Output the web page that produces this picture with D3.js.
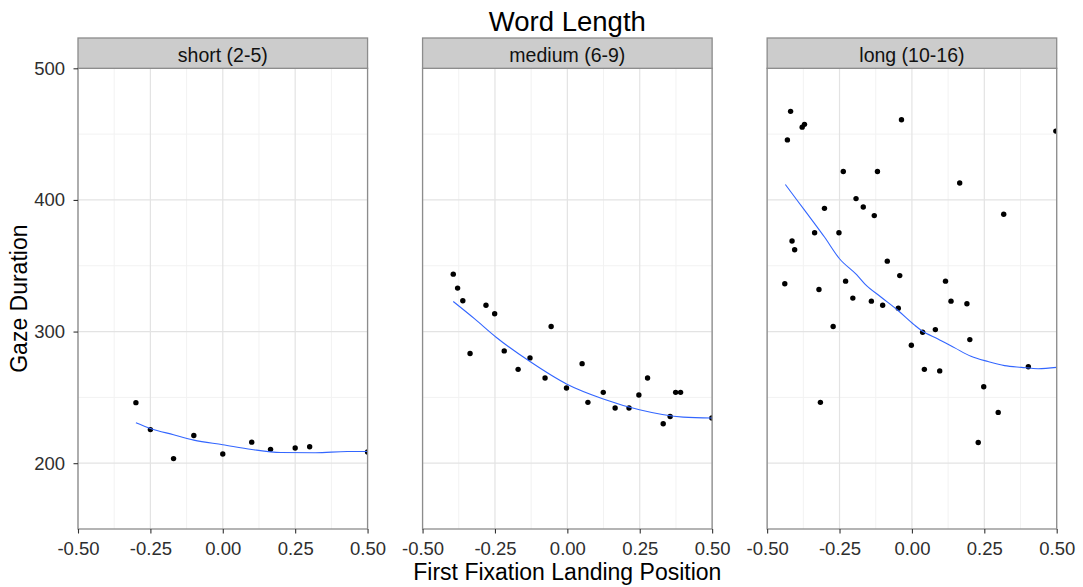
<!DOCTYPE html>
<html>
<head>
<meta charset="utf-8">
<script src="https://cdn.jsdelivr.net/npm/d3@7"></script>
<style>
body { margin: 0; background: #fff; }
text { font-family: "Liberation Sans", Arial, sans-serif; }
</style>
</head>
<body>
<div id="chart"></div>
<script>
// 1: DATA
const panelLabels = ["short (2-5)", "medium (6-9)", "long (10-16)"];

const shortX = [-0.30, -0.25, -0.17, -0.10, 0.00, 0.10, 0.165, 0.25, 0.30, 0.50];
const shortY = [246, 225.5, 203.5, 221, 207, 216, 210.5, 211.5, 212.5, 208.5];

const mediumX = [-0.394, -0.379, -0.361, -0.336, -0.281, -0.251, -0.218, -0.170, -0.129, -0.077, -0.056, -0.003,
    0.051, 0.071, 0.124, 0.165, 0.213, 0.247, 0.277, 0.331, 0.355, 0.374, 0.391, 0.499];
const mediumY = [343.6, 333, 323.4, 283.3, 320, 313.5, 285.3, 271.3, 280, 264.7, 303.8, 257.1,
    275.6, 246.2, 253.8, 241.9, 241.9, 251.8, 264.7, 230, 235.5, 253.8, 253.8, 234.3];

const longX = [-0.439, -0.430, -0.419, -0.414, -0.405, -0.379, -0.371, -0.336, -0.321, -0.316, -0.302, -0.272,
    -0.252, -0.237, -0.229, -0.204, -0.193, -0.168, -0.140, -0.130, -0.119, -0.101, -0.085, -0.047,
    -0.042, -0.036, -0.002, 0.037, 0.043, 0.081, 0.096, 0.116, 0.135, 0.165, 0.190, 0.200,
    0.229, 0.248, 0.298, 0.317, 0.402, 0.497];
const longY = [336.3, 445.6, 467.3, 368.8, 362.2, 455.3, 457.4, 375.1, 332, 246.2, 393.6, 303.8,
    375.1, 421.6, 338.3, 325.4, 401, 394.6, 323.1, 388.1, 421.6, 320, 353.5, 317.7,
    342.5, 460.9, 289.6, 299.5, 271.3, 301.5, 270.1, 338.3, 323.1, 412.9, 321.1, 293.9,
    215.7, 258.1, 238.6, 389.1, 273.3, 452.3];

// smooth (loess) curves
const shortFitX = [-0.30, -0.25, -0.17, -0.10, 0.00, 0.10, 0.20, 0.32, 0.43, 0.50];
const shortFitY = [230.7, 226.4, 221.6, 217.5, 214.0, 210.4, 208.1, 207.9, 208.9, 208.9];

const mediumFitX = [-0.394, -0.32, -0.246, -0.129, -0.003, 0.124, 0.249, 0.40, 0.50];
const mediumFitY = [322.8, 309.6, 295.7, 277.2, 260.2, 248.8, 240.6, 235, 234.3];

const longFitX = [-0.437, -0.394, -0.336, -0.302, -0.25, -0.191, -0.163, -0.106, -0.048, 0.007,
    0.033, 0.090, 0.148, 0.204, 0.263, 0.320, 0.378, 0.436, 0.50];
const longFitY = [411.7, 399, 382, 371.8, 355.3, 343.2, 336.3, 326.1, 316, 305.3,
    300.8, 294.4, 287.6, 281.2, 277.2, 274.1, 272.8, 271.8, 272.8];

const xTicks = [-0.5, -0.25, 0, 0.25, 0.5];
const xMinor = [-0.375, -0.125, 0.125, 0.375];
const yTicks = [200, 300, 400, 500];
const yMinor = [250, 350, 450];

// 2: LAYOUT
const W = 1083, H = 587;
const margin = { top: 68.3, right: 26.3, bottom: 58, left: 78 };
const gap = 55;
const stripH = 30.3;
const panelW = (W - margin.left - margin.right - 2 * gap) / 3;
const panelH = H - margin.top - margin.bottom;

const svg = d3.select("#chart")
    .append("svg")
    .attr("width", W)
    .attr("height", H);

// 3: SCALES
const x = d3.scaleLinear().domain([-0.5, 0.5]).range([0, panelW]);
const y = d3.scaleLinear().domain([150, 500]).range([panelH, 0]);

const zip = (xs, ys) => xs.map((d, i) => ({ x: d, y: ys[i] }));
const panels = [
    { label: panelLabels[0], pts: zip(shortX, shortY), fit: zip(shortFitX, shortFitY) },
    { label: panelLabels[1], pts: zip(mediumX, mediumY), fit: zip(mediumFitX, mediumFitY) },
    { label: panelLabels[2], pts: zip(longX, longY), fit: zip(longFitX, longFitY) }
];

const line = d3.line()
    .x(d => x(d.x))
    .y(d => y(d.y))
    .curve(d3.curveMonotoneX);

// 4: PANELS
panels.forEach((p, i) => {
    const g = svg.append("g")
        .attr("transform", `translate(${margin.left + i * (panelW + gap)},${margin.top})`);

    g.append("clipPath").attr("id", "clip" + i)
        .append("rect").attr("width", panelW).attr("height", panelH);

    g.append("rect")
        .attr("width", panelW).attr("height", panelH)
        .attr("fill", "#fff");

    // minor grid
    g.selectAll(".vminor").data(xMinor).enter().append("line")
        .attr("x1", d => x(d)).attr("x2", d => x(d))
        .attr("y1", 0).attr("y2", panelH)
        .attr("stroke", "#f2f2f2").attr("stroke-width", 1);
    g.selectAll(".hminor").data(yMinor).enter().append("line")
        .attr("x1", 0).attr("x2", panelW)
        .attr("y1", d => y(d)).attr("y2", d => y(d))
        .attr("stroke", "#f2f2f2").attr("stroke-width", 1);

    // major grid
    g.selectAll(".vmajor").data(xTicks).enter().append("line")
        .attr("x1", d => x(d)).attr("x2", d => x(d))
        .attr("y1", 0).attr("y2", panelH)
        .attr("stroke", "#e3e3e3").attr("stroke-width", 1.2);
    g.selectAll(".hmajor").data(yTicks).enter().append("line")
        .attr("x1", 0).attr("x2", panelW)
        .attr("y1", d => y(d)).attr("y2", d => y(d))
        .attr("stroke", "#e3e3e3").attr("stroke-width", 1.2);

    const plot = g.append("g").attr("clip-path", `url(#clip${i})`);

    plot.selectAll("circle").data(p.pts).enter().append("circle")
        .attr("cx", d => x(d.x))
        .attr("cy", d => y(d.y))
        .attr("r", 2.7)
        .attr("fill", "#000");

    plot.append("path")
        .datum(p.fit)
        .attr("d", line)
        .attr("fill", "none")
        .attr("stroke", "#3366FF")
        .attr("stroke-width", 1.1);

    // border + strip
    g.append("rect")
        .attr("width", panelW).attr("height", panelH)
        .attr("fill", "none")
        .attr("stroke", "#8c8c8c").attr("stroke-width", 1.3);

    g.append("rect")
        .attr("y", -stripH)
        .attr("width", panelW).attr("height", stripH)
        .attr("fill", "#cccccc")
        .attr("stroke", "#8c8c8c").attr("stroke-width", 1.3);

    g.append("text")
        .attr("x", panelW / 2)
        .attr("y", -6.8)
        .attr("text-anchor", "middle")
        .attr("font-size", "19.5px")
        .attr("fill", "#111")
        .text(p.label);

    // x axis
    const xAxis = g.append("g")
        .attr("transform", `translate(0,${panelH})`)
        .call(d3.axisBottom(x)
            .tickValues(xTicks)
            .tickFormat(d => d.toFixed(2))
            .tickSize(4.5)
            .tickSizeOuter(0)
            .tickPadding(8.2));
    xAxis.select(".domain").remove();
    xAxis.selectAll("line").attr("stroke", "#333").attr("stroke-width", 1.1);
    xAxis.selectAll("text")
        .attr("font-family", "Liberation Sans, Arial, sans-serif")
        .attr("font-size", "18.5px")
        .attr("fill", "#2e2e2e");

    // y axis only on first panel
    if (i === 0) {
        const yAxis = g.append("g")
            .call(d3.axisLeft(y)
                .tickValues(yTicks)
                .tickSize(4.5)
                .tickSizeOuter(0)
                .tickPadding(8.5));
        yAxis.select(".domain").remove();
        yAxis.selectAll("line").attr("stroke", "#333").attr("stroke-width", 1.1);
        yAxis.selectAll("text")
            .attr("font-family", "Liberation Sans, Arial, sans-serif")
            .attr("font-size", "18.5px")
            .attr("fill", "#2e2e2e");
    }
});

// 5: LABELS
const centerX = margin.left + (3 * panelW + 2 * gap) / 2;

svg.append("text")
    .attr("x", centerX)
    .attr("y", 31)
    .attr("text-anchor", "middle")
    .attr("font-size", "27.5px")
    .attr("fill", "#000")
    .text("Word Length");

svg.append("text")
    .attr("x", centerX)
    .attr("y", 580)
    .attr("text-anchor", "middle")
    .attr("font-size", "23px")
    .attr("fill", "#000")
    .text("First Fixation Landing Position");

svg.append("text")
    .attr("transform", `translate(27,${margin.top + panelH / 2}) rotate(-90)`)
    .attr("text-anchor", "middle")
    .attr("font-size", "23px")
    .attr("fill", "#000")
    .text("Gaze Duration");
</script>
</body>
</html>
